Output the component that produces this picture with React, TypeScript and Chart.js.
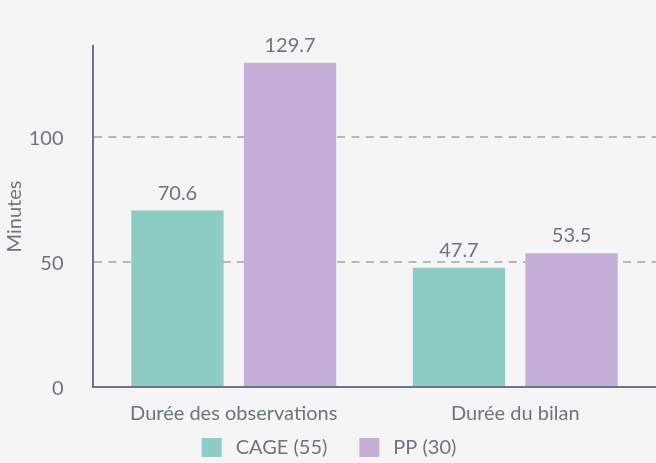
import React, { useEffect, useRef } from "react";
import { Chart, registerables } from "chart.js";

Chart.register(...registerables);

const categories = ["Durée des observations", "Durée du bilan"];
const cageValues = [70.6, 47.7];
const ppValues = [129.7, 53.5];
const seriesLabels = ["CAGE (55)", "PP (30)"];
const seriesColors = ["#8ecdc4", "#c5aed7"];
const yTicks = [0, 50, 100];
const yMax = 136.4;

const TEXT = "#6d747d";
const AXIS = "#6e7580";
const GRID = "#b5b8bb";
const FONT = "Lato";
const FS = 20;

const valueLabels = {
  id: "valueLabels",
  afterDatasetsDraw(chart: any) {
    const ctx = chart.ctx;
    ctx.save();
    ctx.font = `${FS}px ${FONT}`;
    ctx.fillStyle = TEXT;
    ctx.textAlign = "center";
    ctx.textBaseline = "alphabetic";
    chart.data.datasets.forEach((ds: any, i: number) => {
      const meta = chart.getDatasetMeta(i);
      meta.data.forEach((bar: any, j: number) => {
        ctx.fillText(String(ds.data[j]), bar.x, bar.y - 11);
      });
    });
    ctx.restore();
  },
};

// Legend drawn under the axis labels (box, label text, spaced items, centred)
const bottomLegend = {
  id: "bottomLegend",
  afterDraw(chart: any) {
    const ctx = chart.ctx;
    const boxW = 20;
    const boxH = 19;
    const textGap = 14;
    const itemGap = 32;
    const cy = 447.5;
    ctx.save();
    ctx.font = `${FS}px ${FONT}`;
    const items = chart.data.datasets.map((ds: any) => ({
      text: ds.label,
      color: ds.backgroundColor,
      w: ctx.measureText(ds.label).width,
    }));
    const total =
      items.reduce((s: number, it: any) => s + boxW + textGap + it.w, 0) + itemGap * (items.length - 1);
    let x = chart.width / 2 + 1 - total / 2;
    ctx.textAlign = "left";
    ctx.textBaseline = "middle";
    items.forEach((it: any) => {
      ctx.fillStyle = it.color;
      ctx.fillRect(x, cy - boxH / 2, boxW, boxH);
      ctx.fillStyle = TEXT;
      ctx.fillText(it.text, x + boxW + textGap, cy);
      x += boxW + textGap + it.w + itemGap;
    });
    ctx.restore();
  },
};

export default function App() {
  const ref = useRef<HTMLCanvasElement>(null);
  useEffect(() => {
    const chart = new Chart(ref.current!, {
      type: "bar",
      data: {
        labels: categories,
        datasets: [
          { label: seriesLabels[0], data: cageValues, backgroundColor: seriesColors[0] },
          { label: seriesLabels[1], data: ppValues, backgroundColor: seriesColors[1] },
        ],
      },
      options: {
        responsive: false,
        animation: false,
        layout: { padding: { top: 46, right: 0, left: 0, bottom: 0 } },
        datasets: { bar: { categoryPercentage: 0.8, barPercentage: 0.82 } },
        plugins: {
          tooltip: { enabled: false },
          legend: { display: false },
        },
        scales: {
          x: {
            grid: { display: false, drawTicks: false },
            border: { color: AXIS, width: 2 },
            ticks: { color: TEXT, font: { family: FONT, size: FS }, padding: 15 },
            afterFit: (scale: any) => {
              scale.height = 76;
            },
          },
          y: {
            min: 0,
            max: yMax,
            afterBuildTicks: (scale: any) => {
              scale.ticks = yTicks.map((v) => ({ value: v }));
            },
            afterFit: (scale: any) => {
              scale.width = 93;
            },
            border: { color: AXIS, width: 2, dash: [8, 6.3] },
            grid: {
              drawTicks: false,
              lineWidth: 2,
              color: (c: any) => (c.tick && c.tick.value === 0 ? "rgba(0,0,0,0)" : GRID),
            },
            ticks: { color: TEXT, font: { family: FONT, size: FS }, padding: 29.5, labelOffset: 2 },
            title: {
              display: true,
              text: "Minutes",
              color: TEXT,
              font: { family: FONT, size: FS },
              padding: { top: 3, bottom: 4 },
            },
          },
        },
      },
      plugins: [valueLabels, bottomLegend],
    } as any);
    return () => chart.destroy();
  }, []);
  return (
    <div style={{ position: "absolute", left: 0, top: 0, width: 656, height: 463, background: "#f5f5f5" }}>
      <canvas ref={ref} width={656} height={463} style={{ display: "block" }} />
    </div>
  );
}
